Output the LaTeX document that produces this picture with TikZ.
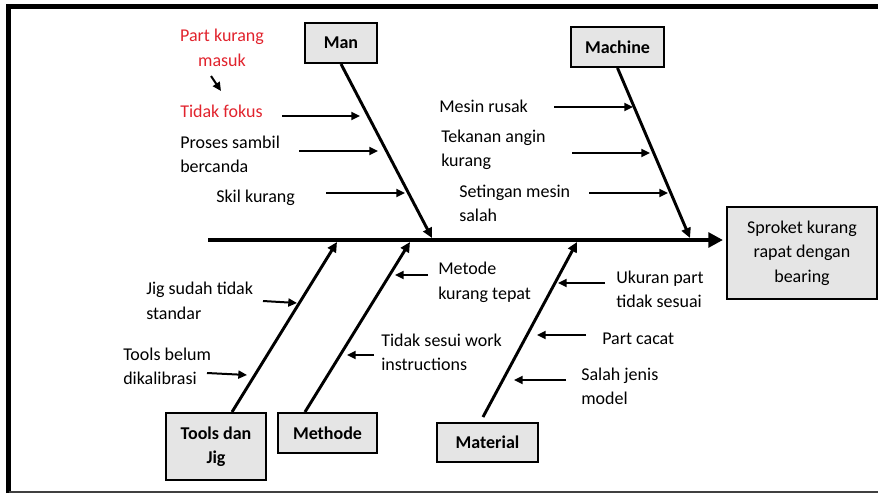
\documentclass[tikz,border=0pt]{standalone}
\usepackage{fontspec}
\setmainfont{Carlito}
\usetikzlibrary{arrows.meta}

\definecolor{boxgray}{RGB}{229,229,229}
\definecolor{causered}{RGB}{225,35,45}

\tikzset{
  lbl/.style={font=\fontsize{13.5}{18.4}\selectfont, inner sep=0pt, align=left, anchor=west},
  redlbl/.style={lbl, text=causered},
  catbox/.style={draw=black, line width=1.5pt, fill=boxgray, inner sep=0pt,
    font=\fontsize{13.5}{18.4}\selectfont\bfseries, align=center},
  spine/.style={line width=3.4pt, -{Triangle[length=11pt,width=11pt]}},
  branch/.style={line width=2.2pt, -{Triangle[length=7.5pt,width=7pt]}},
  cause/.style={line width=1.5pt, -{Triangle[length=6.5pt,width=6pt]}},
}

\begin{document}
\begin{tikzpicture}[x=0.75pt, y=-0.75pt]
\useasboundingbox (0,0) rectangle (878,493);

% outer frame
\draw[line width=4pt, line join=miter] (8.8,493) -- (8.8,6.7) -- (878,6.7);
\draw[line width=1.5pt, black!75] (8.8,491.5) -- (878,491.5);

% effect and category boxes
\node[catbox, minimum width=112.5pt, minimum height=69pt, font=\fontsize{13.5}{18.4}\selectfont]
  (effect) at (802,253) {\strut Sproket kurang\\\strut rapat dengan\\\strut bearing};
\node[catbox, minimum width=54pt, minimum height=30pt] (man) at (341,43) {Man};
\node[catbox, minimum width=69.75pt, minimum height=30pt] (machine) at (617.5,47) {Machine};
\node[catbox, minimum width=75pt, minimum height=50.25pt] (tools) at (216,446.5) {\strut Tools dan\\\strut Jig};
\node[catbox, minimum width=74.25pt, minimum height=30pt] (methode) at (327.5,433) {Methode};
\node[catbox, minimum width=75.75pt, minimum height=29.25pt] (material) at (487.5,442.5) {Material};

% spine
\coordinate (spineL) at (208,240);
\coordinate (spineR) at (723,240);
\draw[spine] (spineL) -- (spineR);

% branch ends on the spine
\coordinate (sMan) at (432,238);
\coordinate (sMachine) at (690,238);
\coordinate (sTools) at (337,242);
\coordinate (sMethode) at (410,242);
\coordinate (sMaterial) at (577,242);

\draw[branch] (man.south) -- (sMan);
\draw[branch] (machine.south) -- (sMachine);
\draw[branch] ([xshift=12pt]tools.north) -- (sTools);
\draw[branch] ([xshift=-16.9pt]methode.north) -- (sMethode);
\draw[branch] ([xshift=-3.4pt,yshift=3.75pt]material.north) -- (sMaterial);

% Man causes
\node[redlbl, align=center, anchor=center] (partmasuk) at (222,49) {\strut Part kurang\\\strut masuk};
\node[redlbl] (fokus) at (180,113) {\strut Tidak fokus};
\node[lbl] (canda) at (180,155.5) {\strut Proses sambil\\\strut bercanda};
\node[lbl] (skil) at (216,198) {\strut Skil kurang};

\coordinate (pmA) at (211,76);  \coordinate (pmB) at (221,91);
\coordinate (fkA) at (282,116); \coordinate (fkB) at (360,116);
\coordinate (cdA) at (299,151); \coordinate (cdB) at (378,151);
\coordinate (skA) at (326,193); \coordinate (skB) at (405,193);
\draw[cause] (pmA) -- (pmB);
\draw[cause] (fkA) -- (fkB);
\draw[cause] (cdA) -- (cdB);
\draw[cause] (skA) -- (skB);

% Machine causes
\node[lbl] (rusak) at (439,108) {\strut Mesin rusak};
\node[lbl] (angin) at (441,149.5) {\strut Tekanan angin\\\strut kurang};
\node[lbl] (setingan) at (459,204.5) {\strut Setingan mesin\\\strut salah};

\coordinate (rsA) at (554,107); \coordinate (rsB) at (633,107);
\coordinate (agA) at (572,153); \coordinate (agB) at (650,153);
\coordinate (stA) at (589,193); \coordinate (stB) at (668,193);
\draw[cause] (rsA) -- (rsB);
\draw[cause] (agA) -- (agB);
\draw[cause] (stA) -- (stB);

% Tools dan Jig causes
\node[lbl] (jig) at (146,302) {\strut Jig sudah tidak\\\strut standar};
\node[lbl] (kalibrasi) at (123,367.5) {\strut Tools belum\\\strut dikalibrasi};

\coordinate (jgA) at (263,301); \coordinate (jgB) at (297,303);
\coordinate (klA) at (207,373); \coordinate (klB) at (247,375);
\draw[cause] (jgA) -- (jgB);
\draw[cause] (klA) -- (klB);

% Methode causes
\node[lbl] (metode) at (438,282) {\strut Metode\\\strut kurang tepat};
\node[lbl] (wi) at (381,353.5) {\strut Tidak sesui work\\\strut instructions};

\coordinate (mtA) at (428,275); \coordinate (mtB) at (395,275);
\coordinate (wiA) at (374,355); \coordinate (wiB) at (347,355);
\draw[cause] (mtA) -- (mtB);
\draw[cause] (wiA) -- (wiB);

% Material causes
\node[lbl] (ukuran) at (616,290.5) {\strut Ukuran part\\\strut tidak sesuai};
\node[lbl] (cacat) at (602,340) {\strut Part cacat};
\node[lbl] (jenis) at (581,387.5) {\strut Salah jenis\\\strut model};

\coordinate (ukA) at (605,283); \coordinate (ukB) at (558,283);
\coordinate (ccA) at (586,335); \coordinate (ccB) at (537,335);
\coordinate (jnA) at (566,380); \coordinate (jnB) at (514,380);
\draw[cause] (ukA) -- (ukB);
\draw[cause] (ccA) -- (ccB);
\draw[cause] (jnA) -- (jnB);
\end{tikzpicture}
\end{document}
